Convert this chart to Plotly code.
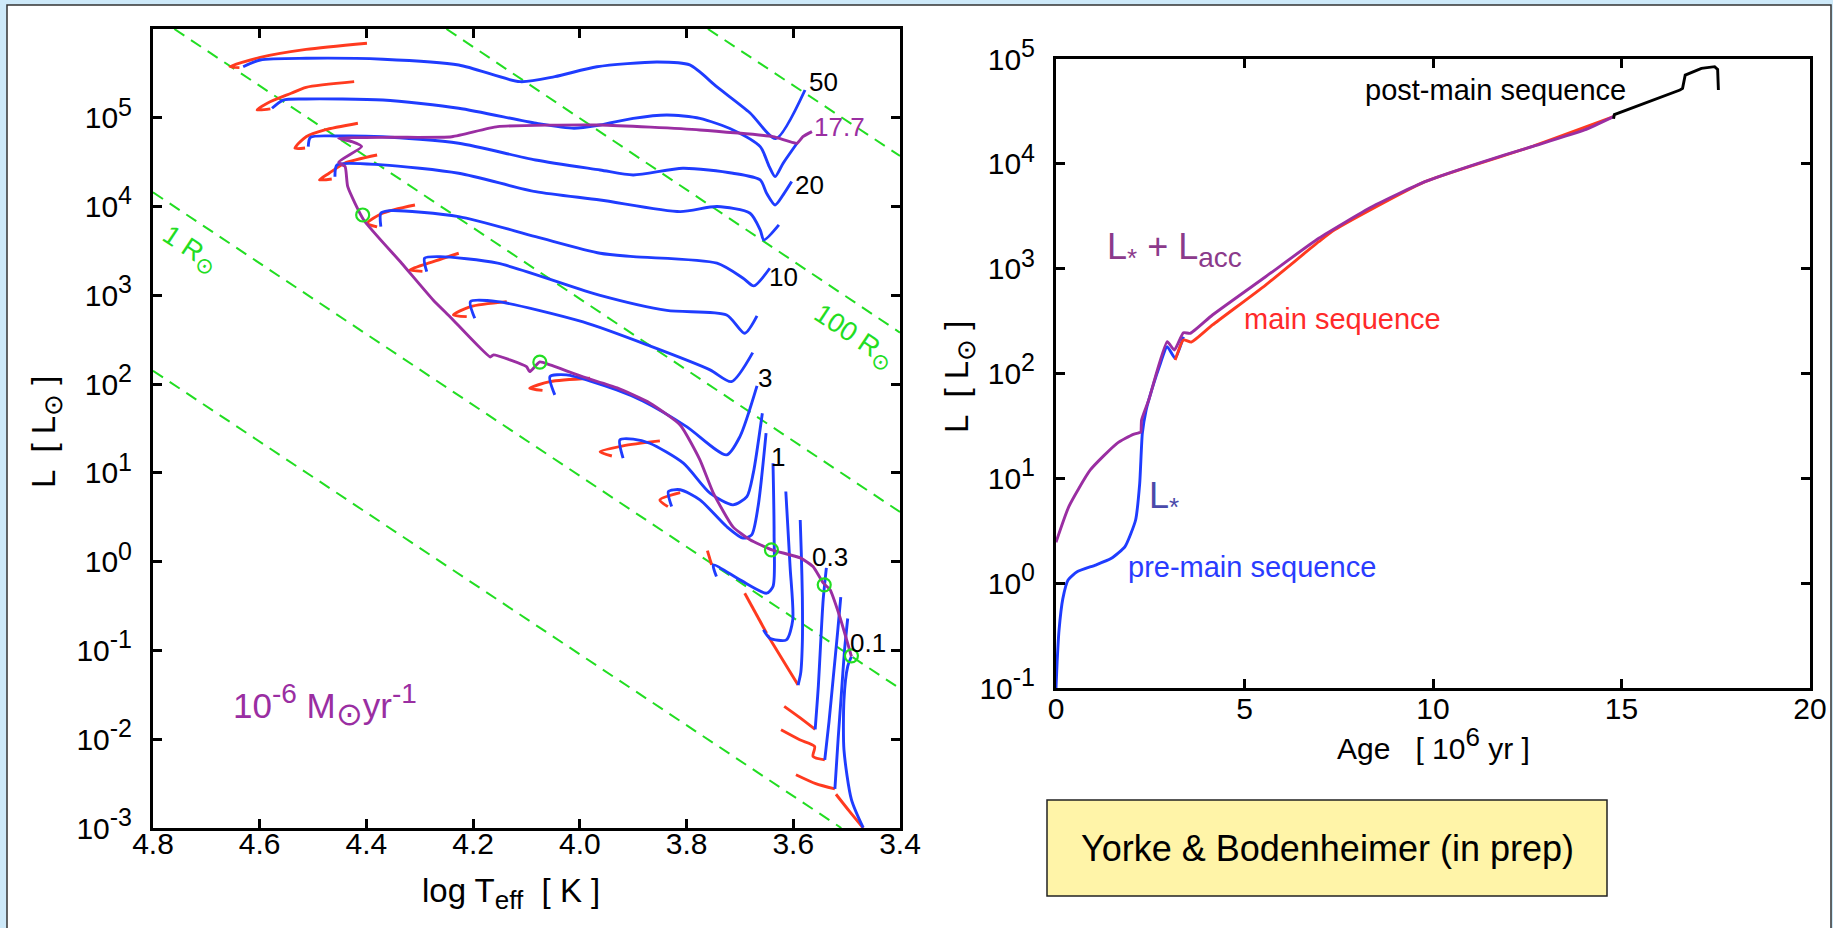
import numpy as np
import plotly.graph_objects as go

FONT = "Liberation Sans, Arial, Helvetica, sans-serif"
BLUE = "#1f3cff"
RED = "#ff3a1f"
PURPLE = "#9a2ea2"
GREEN = "#22dd22"

# ---------------- Left panel: HR diagram (log Teff, log L/Lsun) ----------------
# constant-radius lines (end points)
r01_T = [4.80, 3.51];  r01_L = [2.15, -3.0]
r1_T = [4.80, 3.40];   r1_L = [4.16, -1.43]
r10_T = [4.76, 3.40];  r10_L = [6.0, 0.56]
r100_T = [4.25, 3.40]; r100_L = [6.0, 2.58]
r1000_T = [3.76, 3.40]; r1000_L = [6.0, 4.57]

# track A (50 Msun)
redA_T = [4.399, 4.513, 4.599, 4.656, 4.638]
redA_L = [5.84, 5.77, 5.68, 5.575, 5.565]
blueA_T = [4.631, 4.599, 4.513, 4.369, 4.227, 4.112, 4.047, 3.968, 3.855, 3.794, 3.743, 3.681, 3.633, 3.578]
blueA_L = [5.575, 5.651, 5.670, 5.659, 5.595, 5.407, 5.463, 5.575, 5.628, 5.595, 5.347, 5.054, 4.765, 5.313]
# track B
redB_T = [4.423, 4.513, 4.541, 4.585, 4.605, 4.580]
redB_L = [5.407, 5.343, 5.276, 5.167, 5.088, 5.10]
blueB_T = [4.577, 4.556, 4.513, 4.369, 4.227, 4.082, 4.011, 3.962, 3.900, 3.837, 3.775, 3.713, 3.662, 3.645, 3.634, 3.619, 3.593]
blueB_L = [5.107, 5.20, 5.212, 5.20, 5.107, 4.938, 4.882, 4.919, 4.994, 5.032, 4.994, 4.863, 4.675, 4.45, 4.337, 4.488, 4.713]
# track C (20)
redC_T = [4.416, 4.478, 4.513, 4.534, 4.515]
redC_L = [4.938, 4.863, 4.787, 4.657, 4.66]
blueC_T = [4.509, 4.505, 4.456, 4.370, 4.227, 4.083, 3.962, 3.900, 3.807, 3.713, 3.662, 3.650, 3.634, 3.619, 3.603]
blueC_L = [4.675, 4.78, 4.795, 4.787, 4.713, 4.525, 4.412, 4.356, 4.431, 4.375, 4.30, 4.15, 4.018, 4.131, 4.281]
# track D
redD_T = [4.380, 4.441, 4.470, 4.488, 4.465]
redD_L = [4.581, 4.488, 4.375, 4.30, 4.31]
blueD_T = [4.459, 4.455, 4.370, 4.227, 4.083, 3.962, 3.812, 3.743, 3.681, 3.662, 3.655, 3.627]
blueD_L = [4.337, 4.469, 4.469, 4.375, 4.168, 4.074, 3.943, 4.0, 3.925, 3.737, 3.624, 3.793]
# track E (10)
redE_T = [4.309, 4.370, 4.398, 4.380]
redE_L = [4.018, 3.925, 3.812, 3.77]
blueE_T = [4.373, 4.373, 4.356, 4.227, 4.083, 3.962, 3.900, 3.743, 3.694, 3.674, 3.644]
blueE_L = [3.774, 3.925, 3.954, 3.887, 3.661, 3.474, 3.436, 3.362, 3.193, 3.106, 3.305]
# track F
redF_T = [4.227, 4.284, 4.319, 4.295]
redF_L = [3.474, 3.362, 3.286, 3.27]
blueF_T = [4.287, 4.291, 4.262, 4.154, 3.962, 3.837, 3.725, 3.691, 3.668]
blueF_L = [3.267, 3.418, 3.436, 3.362, 3.00, 2.83, 2.779, 2.573, 2.768]
# track G
redG_T = [4.137, 4.205, 4.237, 4.212]
redG_L = [2.929, 2.873, 2.779, 2.76]
blueG_T = [4.197, 4.205, 4.154, 3.994, 3.869, 3.756, 3.716, 3.676]
blueG_L = [2.742, 2.929, 2.929, 2.70, 2.43, 2.16, 2.028, 2.355]
# track H (3)
redH_T = [3.981, 4.056, 4.094, 4.070]
redH_L = [2.066, 2.028, 1.953, 1.93]
blueH_T = [4.047, 4.056, 4.025, 3.931, 3.882, 3.800, 3.725, 3.700, 3.668]
blueH_L = [1.879, 2.085, 2.104, 1.935, 1.81, 1.521, 1.203, 1.409, 1.98]
# track I
redI_T = [3.850, 3.919, 3.962, 3.940]
redI_L = [1.36, 1.304, 1.237, 1.19]
blueI_T = [3.919, 3.925, 3.900, 3.869, 3.806, 3.756, 3.713, 3.687, 3.675, 3.658]
blueI_L = [1.166, 1.372, 1.38, 1.334, 1.109, 0.771, 0.64, 0.733, 0.997, 1.672]
# track J
redJ_T = [3.812, 3.850, 3.835]
redJ_L = [0.778, 0.696, 0.62]
blueJ_T = [3.828, 3.834, 3.812, 3.775, 3.725, 3.694, 3.678, 3.666, 3.651]
blueJ_L = [0.621, 0.79, 0.81, 0.696, 0.396, 0.265, 0.302, 0.621, 1.447]
# track K (1)
redK_T = [3.761, 3.753]
redK_L = [0.125, -0.036]
blueK_T = [3.744, 3.750, 3.700, 3.650, 3.638, 3.636, 3.638]
blueK_L = [-0.168, -0.036, -0.205, -0.355, -0.28, 0.32, 1.109]
# track L
redL_T = [3.691, 3.650]
redL_L = [-0.355, -0.805]
blueL_T = [3.656, 3.644, 3.613, 3.601, 3.606, 3.614]
blueL_L = [-0.768, -0.862, -0.881, -0.655, -0.055, 0.79]
# track M
redM_T = [3.648, 3.620, 3.591]
redM_L = [-0.83, -1.106, -1.39]
blueM_T = [3.591, 3.586, 3.583, 3.583, 3.585, 3.587]
blueM_L = [-1.39, -1.25, -0.9, -0.4, 0.1, 0.47]
# track N (0.3)
redN_T = [3.617, 3.587, 3.559]
redN_L = [-1.63, -1.76, -1.89]
blueN_T = [3.559, 3.553, 3.549, 3.544, 3.538]
blueN_L = [-1.89, -1.4, -0.95, -0.43, -0.07]
# track O
redO_T = [3.623, 3.588, 3.560, 3.563, 3.541]
redO_L = [-1.894, -2.006, -2.082, -2.194, -2.232]
blueO_T = [3.541, 3.533, 3.525, 3.517, 3.511]
blueO_L = [-2.232, -1.8, -1.3, -0.8, -0.40]
# track P
redP_T = [3.595, 3.558, 3.522]
redP_L = [-2.40, -2.50, -2.56]
blueP_T = [3.522, 3.516, 3.510, 3.504, 3.498]
blueP_L = [-2.56, -2.0, -1.5, -1.0, -0.64]
# track Q (0.1)
redQ_T = [3.520, 3.495, 3.469]
redQ_L = [-2.62, -2.81, -3.0]
blueQ_T = [3.469, 3.491, 3.505, 3.505, 3.498, 3.491]
blueQ_L = [-2.997, -2.68, -2.12, -1.556, -1.18, -1.068]

# accreting track (1e-6 Msun/yr), ending at 17.7 Msun
purple_T = [3.491, 3.513, 3.531, 3.544, 3.563, 3.587, 3.640, 3.681, 3.713, 3.750, 3.775, 3.812, 3.869,
            3.930, 3.994, 4.056, 4.075, 4.094, 4.100, 4.162, 4.168, 4.243, 4.275, 4.334, 4.405, 4.435,
            4.440, 4.452, 4.409, 4.427, 4.452, 4.350, 4.240, 4.154, 3.962, 3.775, 3.638, 3.593, 3.582, 3.565]
purple_L = [-1.068, -0.618, -0.317, -0.24, -0.055, 0.043, 0.133, 0.246, 0.392, 0.775, 1.147, 1.54, 1.788,
            1.957, 2.081, 2.216, 2.25, 2.14, 2.197, 2.329, 2.306, 2.757, 2.948, 3.362, 3.849, 4.224,
            4.45, 4.50, 4.675, 4.731, 4.769, 4.78, 4.787, 4.90, 4.919, 4.863, 4.787, 4.713, 4.787, 4.844]

# marked masses on accreting track
circ_T = [3.491, 3.542, 3.641, 4.075, 4.407]
circ_L = [-1.061, -0.261, 0.133, 2.247, 3.905]

# mass labels
mass_text = ["50", "20", "10", "3", "1", "0.3", "0.1"]
mass_T = [3.544, 3.569, 3.619, 3.653, 3.628, 3.531, 3.460]
mass_L = [5.40, 4.243, 3.211, 2.066, 1.184, 0.057, -0.918]

# ---------------- Right panel: L vs age ----------------
blue_age = [0.0, 0.03, 0.08, 0.18, 0.32, 0.56, 1.05, 1.47, 1.83, 2.11, 2.22, 2.29, 2.39, 2.46, 2.74, 2.95, 3.16, 3.38]
blue_logL = [-1.0, -0.75, -0.45, -0.15, 0.03, 0.109, 0.173, 0.237, 0.348, 0.60, 0.95, 1.43, 1.65, 1.747, 2.065, 2.256, 2.145, 2.351]
red_age = [3.16, 3.38, 3.59, 4.15, 5.56, 6.97, 7.39, 9.79, 12.61, 14.79]
red_logL = [2.128, 2.32, 2.30, 2.463, 2.844, 3.257, 3.37, 3.83, 4.163, 4.45]
purple_age = [0.0, 0.34, 0.91, 1.62, 2.05, 2.21, 2.25, 2.27, 2.46, 2.95, 3.14, 3.38, 3.56, 4.15, 5.56, 6.97, 8.38, 9.79, 11.2, 12.61, 14.02, 14.79]
purple_logL = [0.39, 0.73, 1.08, 1.334, 1.42, 1.435, 1.44, 1.556, 1.747, 2.303, 2.224, 2.389, 2.383, 2.558, 2.923, 3.29, 3.591, 3.83, 4.005, 4.163, 4.323, 4.45]
black_age = [14.79, 14.81, 16.55, 16.62, 16.69, 17.12, 17.47, 17.55, 17.57]
black_logL = [4.43, 4.47, 4.704, 4.72, 4.847, 4.911, 4.927, 4.90, 4.704]

left_xticks = [4.8, 4.6, 4.4, 4.2, 4.0, 3.8, 3.6, 3.4]
left_yexp = [-3, -2, -1, 0, 1, 2, 3, 4, 5, 6]
right_xticks = [0, 5, 10, 15, 20]
right_yexp = [-1, 0, 1, 2, 3, 4, 5]

W, H = 1833, 928
fig = go.Figure()


def add(x, logy, color, width=2.9, xa="x", ya="y", shape="spline", dash=None, smoothing=0.7):
    fig.add_trace(go.Scatter(
        x=x, y=10 ** np.asarray(logy, dtype=float), mode="lines",
        line=dict(color=color, width=width, shape=shape,
                  smoothing=smoothing if shape == "spline" else None, dash=dash),
        xaxis=xa, yaxis=ya, hoverinfo="skip", showlegend=False))


def sup(s, px):
    return f"<sup><span style='font-size:{px}px'>{s}</span></sup>"


def sub(s, px):
    return f"<sub><span style='font-size:{px}px'>{s}</span></sub>"


for T, L in [(r01_T, r01_L), (r1_T, r1_L), (r10_T, r10_L), (r100_T, r100_L), (r1000_T, r1000_L)]:
    add(T, L, GREEN, width=2, shape="linear", dash="12px,8px")

reds = [(redA_T, redA_L), (redB_T, redB_L), (redC_T, redC_L), (redD_T, redD_L), (redE_T, redE_L),
        (redF_T, redF_L), (redG_T, redG_L), (redH_T, redH_L), (redI_T, redI_L), (redJ_T, redJ_L),
        (redK_T, redK_L), (redL_T, redL_L), (redM_T, redM_L), (redN_T, redN_L), (redO_T, redO_L),
        (redP_T, redP_L), (redQ_T, redQ_L)]
blues = [(blueA_T, blueA_L), (blueB_T, blueB_L), (blueC_T, blueC_L), (blueD_T, blueD_L),
         (blueE_T, blueE_L), (blueF_T, blueF_L), (blueG_T, blueG_L), (blueH_T, blueH_L),
         (blueI_T, blueI_L), (blueJ_T, blueJ_L), (blueK_T, blueK_L), (blueL_T, blueL_L),
         (blueM_T, blueM_L), (blueN_T, blueN_L), (blueO_T, blueO_L), (blueP_T, blueP_L),
         (blueQ_T, blueQ_L)]
for T, L in reds:
    add(T, L, RED)
for T, L in blues:
    add(T, L, BLUE)
add(purple_T, purple_L, PURPLE, smoothing=0.5)

fig.add_trace(go.Scatter(x=circ_T, y=10 ** np.asarray(circ_L), mode="markers",
                         marker=dict(symbol="circle-open", size=13, color=GREEN, line=dict(width=2.2, color=GREEN)),
                         xaxis="x", yaxis="y", hoverinfo="skip", showlegend=False))

# right panel
add(blue_age, blue_logL, BLUE, xa="x2", ya="y2", smoothing=0.5)
add(red_age, red_logL, RED, xa="x2", ya="y2", smoothing=0.5)
add(purple_age, purple_logL, PURPLE, xa="x2", ya="y2", smoothing=0.5)
add(black_age, black_logL, "black", xa="x2", ya="y2", shape="linear")

axis_common = dict(showgrid=False, zeroline=False, showline=True, linecolor="black", linewidth=3,
                   mirror="allticks", ticks="inside", ticklen=9, tickwidth=2.5, tickcolor="black",
                   automargin=False,
                   tickfont=dict(family=FONT, size=30, color="black"))

fig.update_layout(
    template="none",
    width=W, height=H, margin=dict(l=0, r=0, t=0, b=0, pad=0, autoexpand=False),
    paper_bgcolor="#cde9f9", plot_bgcolor="white",
    showlegend=False,
    xaxis=dict(domain=[153 / W, 900 / W], range=[4.8, 3.4], tickvals=left_xticks,
               ticktext=[f"{v:.1f}" for v in left_xticks], anchor="y", ticklabelstandoff=-13, **axis_common),
    yaxis=dict(domain=[1 - 828 / H, 1 - 29 / H], type="log", range=[-3, 6],
               tickvals=[10.0 ** e for e in left_yexp],
               ticktext=[("10" + sup(e, 25)) if e < 6 else "" for e in left_yexp],
               anchor="x", ticklabelstandoff=12, **axis_common),
    xaxis2=dict(domain=[1056 / W, 1810 / W], range=[0, 20], tickvals=right_xticks,
                ticktext=[str(v) for v in right_xticks], anchor="y2", ticklabelstandoff=-8, **axis_common),
    yaxis2=dict(domain=[1 - 688 / H, 1 - 59 / H], type="log", range=[-1, 5],
                tickvals=[10.0 ** e for e in right_yexp],
                ticktext=["10" + sup(e, 25) for e in right_yexp],
                anchor="x2", ticklabelstandoff=12, **axis_common),
)

shapes = [
    dict(type="rect", xref="paper", yref="paper", x0=7 / W, x1=1831 / W, y0=-0.05, y1=1 - 5 / H,
         fillcolor="white", line=dict(color="#333333", width=1.5), layer="below"),
    dict(type="rect", xref="paper", yref="paper", x0=1047 / W, x1=1607 / W, y0=1 - 896 / H, y1=1 - 800 / H,
         fillcolor="#fff4a8", line=dict(color="#222222", width=1.5), layer="above"),
]
fig.update_layout(shapes=shapes)

ann = []
def A(text, x, y, xref, yref, size, color="black", angle=0, xanchor="center", yanchor="middle"):
    ann.append(dict(text=text, x=x, y=y, xref=xref, yref=yref, showarrow=False, textangle=angle,
                    xanchor=xanchor, yanchor=yanchor, font=dict(family=FONT, size=size, color=color)))

for t, x, y in zip(mass_text, mass_T, mass_L):
    A(t, x, y, "x", "y", 26)
A("17.7", 3.5125, 4.90, "x", "y", 26, PURPLE)
A("1 R" + sub("⊙", 22), 4.732, 3.50, "x", "y", 27, GREEN, angle=33.6)
A("100 R" + sub("⊙", 22), 3.488, 2.52, "x", "y", 27, GREEN, angle=33.6)
A("10" + sup("-6", 28) + " M" + sub("⊙", 32) + "yr" + sup("-1", 28), 4.478, -1.62, "x", "y", 35, PURPLE)
# axis titles
A("log T" + sub("eff", 26) + "  [ K ]", 511 / W, 1 - 893 / H, "paper", "paper", 33)
A("L  [ L" + sub("⊙", 26) + " ]", 47 / W, 1 - 432 / H, "paper", "paper", 33, angle=-90)
A("Age   [ 10" + sup("6", 26) + " yr ]", 1433 / W, 1 - 743 / H, "paper", "paper", 30)
A("L  [ L" + sub("⊙", 26) + " ]", 959 / W, 1 - 377 / H, "paper", "paper", 33, angle=-90)
# right panel texts
A("post-main sequence", 11.65, 4.70, "x2", "y2", 29)
A("L" + sub("*", 26) + " + L" + sub("acc", 28), 3.15, 3.18, "x2", "y2", 36, "#8b3a8b")
A("main sequence", 7.59, 2.52, "x2", "y2", 29, "#ff2a2a")
A("L" + sub("*", 26), 2.87, 0.81, "x2", "y2", 36, "#4a4aaa")
A("pre-main sequence", 5.2, 0.154, "x2", "y2", 29, "#2a3cff")
A("Yorke & Bodenheimer (in prep)", 1327 / W, 1 - 848 / H, "paper", "paper", 36)
fig.update_layout(annotations=ann)

fig.write_html("out.html")
